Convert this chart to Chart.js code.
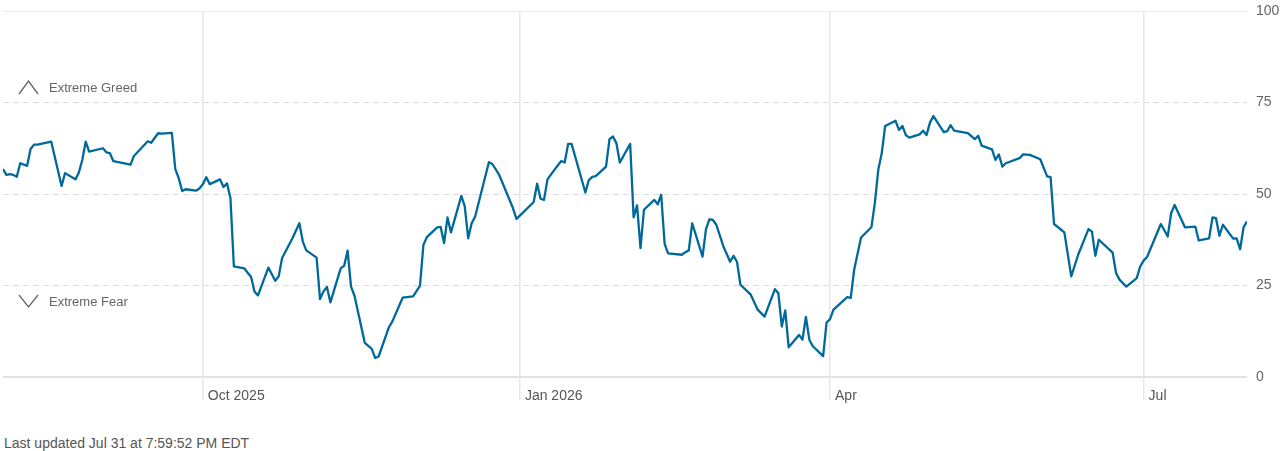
<!DOCTYPE html>
<html>
<head>
<meta charset="utf-8">
<title>Fear &amp; Greed Index</title>
<script src="https://cdn.jsdelivr.net/npm/chart.js@4.4.1/dist/chart.umd.min.js"></script>
<style>
  html, body { margin: 0; padding: 0; background: #fff; }
  body { width: 1285px; height: 451px; position: relative; overflow: hidden;
         font-family: "Liberation Sans", Arial, sans-serif; }
  #wrap { position: absolute; left: 0; top: 0; width: 1285px; height: 410px; }
  .zone { position: absolute; left: 18px; height: 16px; color: #666; font-size: 13px; line-height: 16px; }
  .zone svg { position: absolute; left: 0; top: 0; }
  .zone span { position: absolute; left: 31px; top: 0; white-space: nowrap; }
  #updated { position: absolute; left: 4px; top: 435px; color: #555; font-size: 14px; line-height: 16px; white-space: nowrap; }
</style>
</head>
<body>
<div id="wrap"><canvas id="graficoIndice" width="1285" height="410"></canvas></div>
<div class="zone" style="top:80px">
  <svg width="22" height="16"><polyline points="1,14 10.5,1 20,14" fill="none" stroke="#666" stroke-width="1.3"/></svg>
  <span>Extreme Greed</span>
</div>
<div class="zone" style="top:294px">
  <svg width="22" height="16"><polyline points="1,1 10.5,13 20,1" fill="none" stroke="#666" stroke-width="1.3"/></svg>
  <span>Extreme Fear</span>
</div>
<div id="updated">Last updated Jul 31 at 7:59:52 PM EDT</div>
<script>
// dias de leitura e valor do indice (0-100)
const datas = [
  '2025-08-04','2025-08-05','2025-08-06','2025-08-07','2025-08-08','2025-08-09','2025-08-11','2025-08-12','2025-08-13','2025-08-14',
  '2025-08-18','2025-08-21','2025-08-22','2025-08-25','2025-08-26','2025-08-27','2025-08-28','2025-08-29','2025-09-02','2025-09-03',
  '2025-09-04','2025-09-05','2025-09-10','2025-09-11','2025-09-15','2025-09-16','2025-09-18','2025-09-19','2025-09-22','2025-09-23',
  '2025-09-24','2025-09-25','2025-09-26','2025-09-29','2025-09-30','2025-10-01','2025-10-02','2025-10-03','2025-10-06','2025-10-07',
  '2025-10-08','2025-10-09','2025-10-10','2025-10-13','2025-10-14','2025-10-15','2025-10-16','2025-10-17','2025-10-20','2025-10-22',
  '2025-10-23','2025-10-24','2025-10-27','2025-10-29','2025-10-30','2025-10-31','2025-11-03','2025-11-04','2025-11-05','2025-11-06',
  '2025-11-07','2025-11-10','2025-11-11','2025-11-12','2025-11-13','2025-11-14','2025-11-17','2025-11-19','2025-11-20','2025-11-21',
  '2025-11-24','2025-11-25','2025-11-28','2025-12-01','2025-12-03','2025-12-04','2025-12-05','2025-12-08','2025-12-09','2025-12-10',
  '2025-12-11','2025-12-12','2025-12-15','2025-12-16','2025-12-17','2025-12-18','2025-12-19','2025-12-23','2025-12-24','2025-12-26',
  '2025-12-30','2025-12-31','2026-01-01','2026-01-05','2026-01-06','2026-01-07','2026-01-08','2026-01-09','2026-01-11','2026-01-13',
  '2026-01-14','2026-01-15','2026-01-16','2026-01-20','2026-01-21','2026-01-22','2026-01-23','2026-01-26','2026-01-27','2026-01-28',
  '2026-01-29','2026-01-30','2026-02-02','2026-02-03','2026-02-04','2026-02-05','2026-02-06','2026-02-09','2026-02-10','2026-02-11',
  '2026-02-12','2026-02-13','2026-02-17','2026-02-18','2026-02-19','2026-02-20','2026-02-23','2026-02-24','2026-02-25','2026-02-26',
  '2026-02-27','2026-03-01','2026-03-03','2026-03-04','2026-03-05','2026-03-06','2026-03-09','2026-03-11','2026-03-13','2026-03-16',
  '2026-03-17','2026-03-18','2026-03-19','2026-03-20','2026-03-23','2026-03-24','2026-03-25','2026-03-26','2026-03-27','2026-03-30',
  '2026-03-31','2026-04-01','2026-04-02','2026-04-06','2026-04-07','2026-04-08','2026-04-10','2026-04-13','2026-04-14','2026-04-15',
  '2026-04-16','2026-04-17','2026-04-20','2026-04-21','2026-04-22','2026-04-23','2026-04-24','2026-04-27','2026-04-28','2026-04-29',
  '2026-04-30','2026-05-01','2026-05-04','2026-05-05','2026-05-06','2026-05-07','2026-05-11','2026-05-13','2026-05-14','2026-05-15',
  '2026-05-18','2026-05-19','2026-05-20','2026-05-21','2026-05-22','2026-05-26','2026-05-27','2026-05-29','2026-06-01','2026-06-03',
  '2026-06-04','2026-06-05','2026-06-08','2026-06-10','2026-06-12','2026-06-15','2026-06-16','2026-06-17','2026-06-18','2026-06-22',
  '2026-06-23','2026-06-24','2026-06-26','2026-06-29','2026-06-30','2026-07-01','2026-07-02','2026-07-06','2026-07-08','2026-07-09',
  '2026-07-10','2026-07-13','2026-07-16','2026-07-17','2026-07-20','2026-07-21','2026-07-22','2026-07-23','2026-07-24','2026-07-27',
  '2026-07-28','2026-07-29','2026-07-30','2026-07-31'
];
const indice = [
  56.8, 55.2, 55.4, 55.2, 54.7, 58.4, 57.7, 62.3, 63.5, 63.5,
  64.3, 52.2, 55.7, 54.0, 55.8, 59.3, 64.3, 61.6, 62.5, 61.4,
  61.2, 59.0, 58.0, 60.4, 64.4, 64.0, 66.6, 66.5, 66.7, 56.8,
  54.3, 50.8, 51.3, 50.9, 51.5, 52.7, 54.6, 52.7, 54.0, 51.9,
  52.9, 48.9, 30.2, 29.7, 28.5, 27.3, 23.3, 22.3, 29.9, 26.3,
  27.5, 32.5, 37.9, 42.0, 37.0, 34.6, 32.6, 21.3, 23.4, 24.6,
  20.4, 29.7, 30.4, 34.5, 24.7, 22.2, 9.3, 7.7, 5.2, 5.6,
  13.6, 15.2, 21.7, 22.0, 24.9, 36.1, 38.2, 40.9, 41.0, 36.6,
  43.6, 39.5, 49.5, 46.6, 37.9, 42.0, 43.8, 58.7, 58.2, 55.2,
  46.1, 43.2, 44.1, 47.8, 52.8, 48.7, 48.4, 54.0, 56.6, 59.0,
  58.6, 63.7, 63.7, 50.4, 53.8, 54.7, 54.9, 57.5, 65.0, 65.7,
  63.9, 58.6, 63.7, 43.6, 46.9, 35.2, 45.7, 48.4, 47.2, 49.8,
  36.4, 33.8, 33.4, 34.1, 34.6, 42.0, 32.9, 40.4, 43.1, 42.9,
  41.6, 35.8, 31.5, 33.1, 31.5, 25.2, 22.5, 18.4, 16.5, 24.0,
  22.9, 13.8, 18.2, 8.1, 11.5, 10.2, 16.4, 10.2, 8.4, 5.7,
  14.9, 15.8, 18.4, 21.8, 21.6, 29.3, 38.1, 40.9, 47.5, 56.6,
  61.1, 68.6, 70.0, 67.5, 68.6, 66.1, 65.4, 66.3, 67.3, 66.1,
  69.5, 71.3, 66.9, 67.2, 68.8, 67.3, 66.6, 65.0, 65.9, 63.2,
  62.2, 59.3, 60.8, 57.5, 58.4, 59.8, 60.8, 60.7, 59.5, 54.8,
  54.6, 41.8, 39.5, 27.5, 33.4, 40.4, 39.7, 33.1, 37.5, 34.0,
  28.4, 26.6, 24.7, 27.0, 30.2, 31.8, 32.8, 41.8, 38.4, 44.8,
  47.0, 40.9, 41.1, 37.3, 37.9, 43.6, 43.4, 38.6, 41.6, 37.8,
  37.9, 34.9, 40.9, 42.5
];
const datasMarcas = ['2025-10-01', '2026-01-01', '2026-04-01', '2026-07-01'];
const rotulosMarcas = ['Oct 2025', 'Jan 2026', 'Apr', 'Jul'];
const marcasY = [0, 25, 50, 75, 100];

function diaNum(s) {
    const [a, m, d] = s.split('-').map(Number);
    return Date.UTC(a, m - 1, d) / 86400000;
}

const pontos = datas.map((d, i) => ({ x: diaNum(d), y: indice[i] }));
const diasMarcas = datasMarcas.map(diaNum);
const fonte = "'Liberation Sans', Arial, sans-serif";

const ctx = document.getElementById('graficoIndice').getContext('2d');
const grafico = new Chart(ctx, {
    type: 'line',
    data: {
        datasets: [{
            label: 'Fear & Greed',
            data: pontos,
            borderColor: '#00699b',
            borderWidth: 2.3,
            pointRadius: 0,
            tension: 0,
            fill: false,
            borderJoinStyle: 'round'
        }]
    },
    options: {
        responsive: false,
        animation: false,
        layout: { padding: { left: 3, top: 11, right: 0, bottom: 0 } },
        plugins: {
            legend: { display: false },
            tooltip: { enabled: false }
        },
        scales: {
            x: {
                type: 'linear',
                min: diaNum(datas[0]),
                max: diaNum(datas[datas.length - 1]),
                afterBuildTicks: s => { s.ticks = diasMarcas.map(v => ({ value: v })); },
                afterFit: s => { s.height = 33; s.paddingLeft = 0; s.paddingRight = 0; },
                grid: { color: '#e6e6e6', lineWidth: 1.5, tickLength: 23, drawTicks: true },
                border: { display: false },
                ticks: {
                    autoSkip: false,
                    maxRotation: 0,
                    align: 'start',
                    labelOffset: 5,
                    padding: -12,
                    color: '#555',
                    font: { family: fonte, size: 14 },
                    callback: v => rotulosMarcas[diasMarcas.indexOf(v)] || ''
                }
            },
            y: {
                position: 'right',
                min: 0,
                max: 100,
                afterBuildTicks: s => { s.ticks = marcasY.map(v => ({ value: v })); },
                afterFit: s => { s.width = 38; s.paddingTop = 0; s.paddingBottom = 0; },
                grid: {
                    drawTicks: false,
                    color: c => c.tick && c.tick.value === 0 ? '#e2e2e2' : (c.tick && c.tick.value === 100 ? '#ececec' : '#dddddd'),
                    lineWidth: c => c.tick && c.tick.value === 0 ? 2 : 1
                },
                border: {
                    display: false,
                    dash: c => (c.tick && c.tick.value % 100 !== 0) ? [6, 4] : []
                },
                ticks: {
                    padding: 9,
                    color: '#666',
                    font: { family: fonte, size: 14 }
                }
            }
        }
    }
});
</script>
</body>
</html>
